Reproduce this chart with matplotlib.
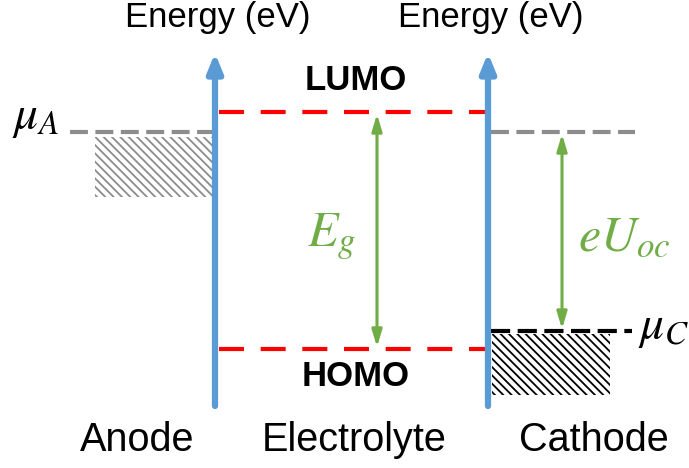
import matplotlib.pyplot as plt
from matplotlib.patches import Rectangle

plt.rcParams['font.family'] = ['Liberation Sans', 'DejaVu Sans']
plt.rcParams['mathtext.fontset'] = 'stix'
plt.rcParams['hatch.linewidth'] = 1.3

# level positions (pixel units, y grows downward)
axis_x = [215, 488]
axis_labels = ["Energy (eV)", "Energy (eV)"]
lumo_y = 112
homo_y = 349
mu_a_y = 132
mu_c_y = 331
regions = ["Anode", "Electrolyte", "Cathode"]
region_x = [137, 354, 594]

blue = "#5b9bd5"
green = "#70ad47"
red = "#ff0000"
gray = "#8c8c8c"

fig = plt.figure(figsize=(6.89, 4.68), dpi=100)
ax = fig.add_axes([0, 0, 1, 1])
ax.set_xlim(0, 689)
ax.set_ylim(468, 0)
ax.axis("off")

# energy axes
for x, lab in zip(axis_x, axis_labels):
    ax.annotate("", xy=(x, 53), xytext=(x, 406),
                arrowprops=dict(arrowstyle="-|>,head_length=1.1,head_width=0.45",
                                color=blue, lw=4.5, shrinkA=0, shrinkB=0))
    ax.text(x + 3, 18, lab, ha="center", va="center", fontsize=25)

# LUMO / HOMO
ax.plot([219, 487], [lumo_y, lumo_y], ls=(0, (6, 4)), color=red, lw=3)
ax.plot([219, 487], [homo_y, homo_y], ls=(0, (6, 4)), color=red, lw=3)
ax.text(356, 80, "LUMO", ha="center", va="center", fontsize=25, fontweight="bold")
ax.text(356, 377, "HOMO", ha="center", va="center", fontsize=25, fontweight="bold")

# anode
ax.plot([70, 212], [mu_a_y, mu_a_y], ls=(0, (4.3, 1.8)), color=gray, lw=3)
ax.add_patch(Rectangle((95, 137), 117, 60, fill=False, hatch="\\\\\\\\",
                       edgecolor=gray, lw=0))
ax.text(12, 118, r"$\mu_A$", ha="left", va="center", fontsize=34)

# cathode
ax.plot([491, 635], [mu_a_y, mu_a_y], ls=(0, (4.3, 1.8)), color=gray, lw=3)
ax.plot([491, 632], [mu_c_y, mu_c_y], ls=(0, (4.6, 1.8)), color="black", lw=3)
ax.add_patch(Rectangle((492, 334), 118, 61, fill=False, hatch="\\\\\\\\",
                       edgecolor="black", lw=0))
ax.text(638, 328, r"$\mu_C$", ha="left", va="center", fontsize=34)

# gaps
ax.annotate("", xy=(377, 114), xytext=(377, 347),
            arrowprops=dict(arrowstyle="<|-|>,head_length=1.0,head_width=0.3",
                            color=green, lw=2.2, shrinkA=0, shrinkB=0))
ax.text(332, 237, r"$E_g$", ha="center", va="center", fontsize=36, color=green)
ax.annotate("", xy=(562, 134), xytext=(562, 329),
            arrowprops=dict(arrowstyle="<|-|>,head_length=1.0,head_width=0.3",
                            color=green, lw=2.2, shrinkA=0, shrinkB=0))
ax.text(624, 237, r"$eU_{oc}$", ha="center", va="center", fontsize=36, color=green)

for x, lab in zip(region_x, regions):
    ax.text(x, 440, lab, ha="center", va="center", fontsize=28.5)

fig.savefig("out.png", dpi=100)
